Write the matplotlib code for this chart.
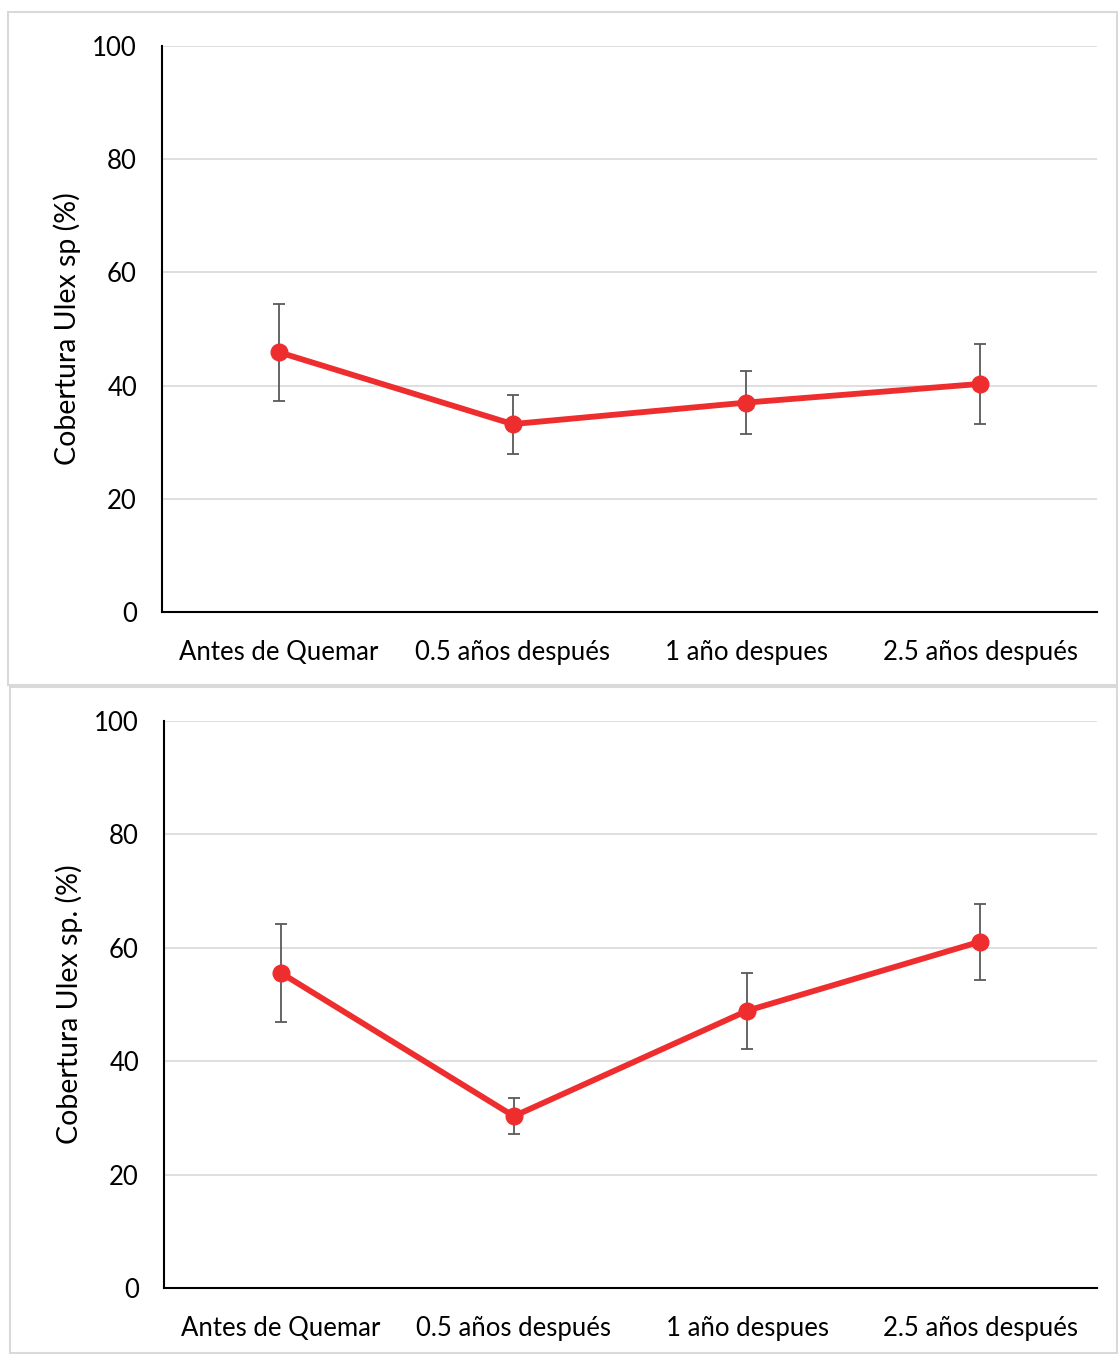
import matplotlib.pyplot as plt
from matplotlib.patches import Rectangle

plt.rcParams['font.family'] = ['Lato', 'DejaVu Sans']

categories = ["Antes de Quemar", "0.5 años después", "1 año despues", "2.5 años después"]

# panel superior
top_values = [45.9, 33.2, 37.0, 40.3]
top_err = [8.6, 5.2, 5.6, 7.0]
# panel inferior
bottom_values = [55.6, 30.3, 48.9, 61.1]
bottom_err = [8.6, 3.2, 6.7, 6.7]

yticks = [0, 20, 40, 60, 80, 100]

W, H = 1118, 1354
fig = plt.figure(figsize=(W / 100, H / 100), dpi=100)


def px_rect(x0, y0, x1, y1):
    # convert pixel box (top-left origin) to figure fraction
    return [x0 / W, 1 - y1 / H, (x1 - x0) / W, (y1 - y0) / H]


def draw_panel(axbox, frame, values, err, ylabel):
    fx0, fy0, fx1, fy1 = frame
    fig.add_artist(Rectangle((fx0 / W, 1 - fy1 / H), (fx1 - fx0) / W, (fy1 - fy0) / H,
                             transform=fig.transFigure, fill=False,
                             edgecolor="#d9d9d9", linewidth=1.5))
    ax = fig.add_axes(px_rect(*axbox))
    x = range(len(categories))
    ax.errorbar(x, values, yerr=err, color="#ee2e2e", linewidth=4.2,
                marker="o", markersize=12, ecolor="#595959", elinewidth=1.3,
                capsize=4.5, capthick=1.3, zorder=3)
    ax.set_xlim(-0.5, len(categories) - 0.5)
    ax.set_ylim(0, 100)
    ax.set_yticks(yticks)
    ax.set_xticks(list(x))
    ax.set_xticklabels(categories)
    ax.tick_params(axis="both", length=0, labelsize=18.5, colors="black")
    ax.tick_params(axis="y", pad=18)
    ax.tick_params(axis="x", pad=20)
    ax.grid(axis="y", color="#d9d9d9", linewidth=1.2)
    ax.set_axisbelow(True)
    for s in ["top", "right"]:
        ax.spines[s].set_visible(False)
    ax.spines["left"].set_linewidth(1.5)
    ax.spines["bottom"].set_linewidth(1.5)
    ax.set_ylabel(ylabel, fontsize=20.5, labelpad=8)
    return ax


draw_panel((162, 46, 1097, 612), (8, 12, 1117, 685), top_values, top_err,
           "Cobertura Ulex sp (%)")
draw_panel((164, 721, 1097, 1288), (10, 687, 1117, 1353), bottom_values, bottom_err,
           "Cobertura Ulex sp. (%)")

plt.savefig("out.png", dpi=100)
